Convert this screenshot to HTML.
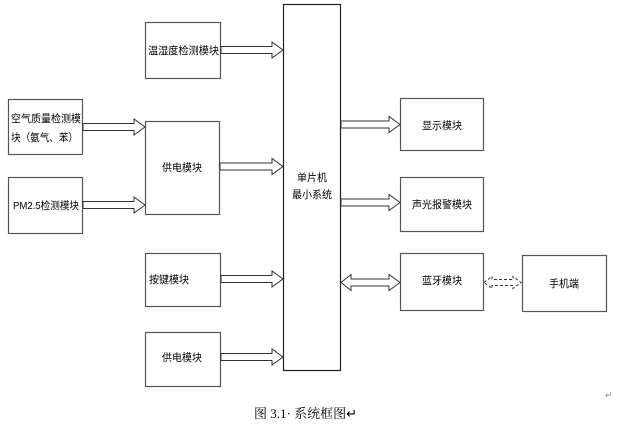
<!DOCTYPE html>
<html><head><meta charset="utf-8"><style>
html,body{margin:0;padding:0;background:#fff;width:618px;height:427px;overflow:hidden}
svg text{font-family:"Liberation Sans","Noto Sans CJK SC",sans-serif;font-size:10.5px;fill:#000}
</style></head><body>
<svg width="618" height="427" viewBox="0 0 618 427" xmlns="http://www.w3.org/2000/svg">
<g fill="#fff" stroke="#555" stroke-width="1.2">
<rect x="145.5" y="22.5" width="75" height="56"/>
<rect x="8.5" y="99.5" width="74" height="55"/>
<rect x="8.5" y="177.5" width="74" height="56"/>
<rect x="145.5" y="121.5" width="74" height="93"/>
<rect x="145.5" y="253.5" width="75" height="53"/>
<rect x="145.5" y="332.5" width="75" height="54"/>
<rect x="283.5" y="4.5" width="57" height="366" stroke="#222"/>
<rect x="400.5" y="98.5" width="83" height="52"/>
<rect x="400.5" y="177.5" width="83" height="54"/>
<rect x="400.5" y="253.5" width="83" height="57"/>
<rect x="522.5" y="255.5" width="84" height="56"/>
</g>
<g fill="#fff" stroke="#333" stroke-width="1">
<polygon points="221,46.5 272,46.5 272,42 283,50 272,58 272,53.5 221,53.5"/>
<polygon points="83,123.5 134,123.5 134,119 145,127 134,135 134,130.5 83,130.5"/>
<polygon points="83,201.5 134,201.5 134,197 145,205 134,213 134,208.5 83,208.5"/>
<polygon points="220,163 272,163 272,158.5 283,166.5 272,174.5 272,170 220,170"/>
<polygon points="221,275.5 272,275.5 272,271 283,279 272,287 272,282.5 221,282.5"/>
<polygon points="221,353.5 272,353.5 272,349 283,357 272,365 272,360.5 221,360.5"/>
<polygon points="341,121 389,121 389,116.5 400,124.5 389,132.5 389,128 341,128"/>
<polygon points="341,199 389,199 389,194.5 400,202.5 389,210.5 389,206 341,206"/>
<polygon points="341,282.5 351,274.5 351,279 389,279 389,274.5 400,282.5 389,290.5 389,286 351,286 351,290.5"/>
<polygon points="484,282.5 492,276.5 492,279.5 513,279.5 513,276.5 521,282.5 513,288.5 513,285.5 492,285.5 492,288.5" stroke-dasharray="3,2"/>
</g>
<text x="148" y="54" textLength="71" lengthAdjust="spacingAndGlyphs">温湿度检测模块</text>
<text x="11" y="122" textLength="70" lengthAdjust="spacingAndGlyphs">空气质量检测模</text>
<text x="11" y="141" textLength="67" lengthAdjust="spacingAndGlyphs">块（氨气、苯）</text>
<text x="13" y="209" textLength="66" lengthAdjust="spacingAndGlyphs">PM2.5检测模块</text>
<text x="162" y="171" textLength="40" lengthAdjust="spacingAndGlyphs">供电模块</text>
<text x="149" y="283" textLength="40" lengthAdjust="spacingAndGlyphs">按键模块</text>
<text x="162" y="361" textLength="40" lengthAdjust="spacingAndGlyphs">供电模块</text>
<text x="297" y="181" textLength="30" lengthAdjust="spacingAndGlyphs">单片机</text>
<text x="292" y="198" textLength="40" lengthAdjust="spacingAndGlyphs">最小系统</text>
<text x="422" y="129" textLength="40" lengthAdjust="spacingAndGlyphs">显示模块</text>
<text x="412" y="208" textLength="60" lengthAdjust="spacingAndGlyphs">声光报警模块</text>
<text x="422" y="284" textLength="40" lengthAdjust="spacingAndGlyphs">蓝牙模块</text>
<text x="549" y="287" textLength="30" lengthAdjust="spacingAndGlyphs">手机端</text>
<text x="254" y="418" style="font-size:13px;font-family:'Liberation Serif','Noto Serif CJK SC',serif">图 3.1· 系统框图↵</text>
<text x="605" y="398" style="font-size:9px;fill:#888">↵</text>
</svg>
</body></html>
